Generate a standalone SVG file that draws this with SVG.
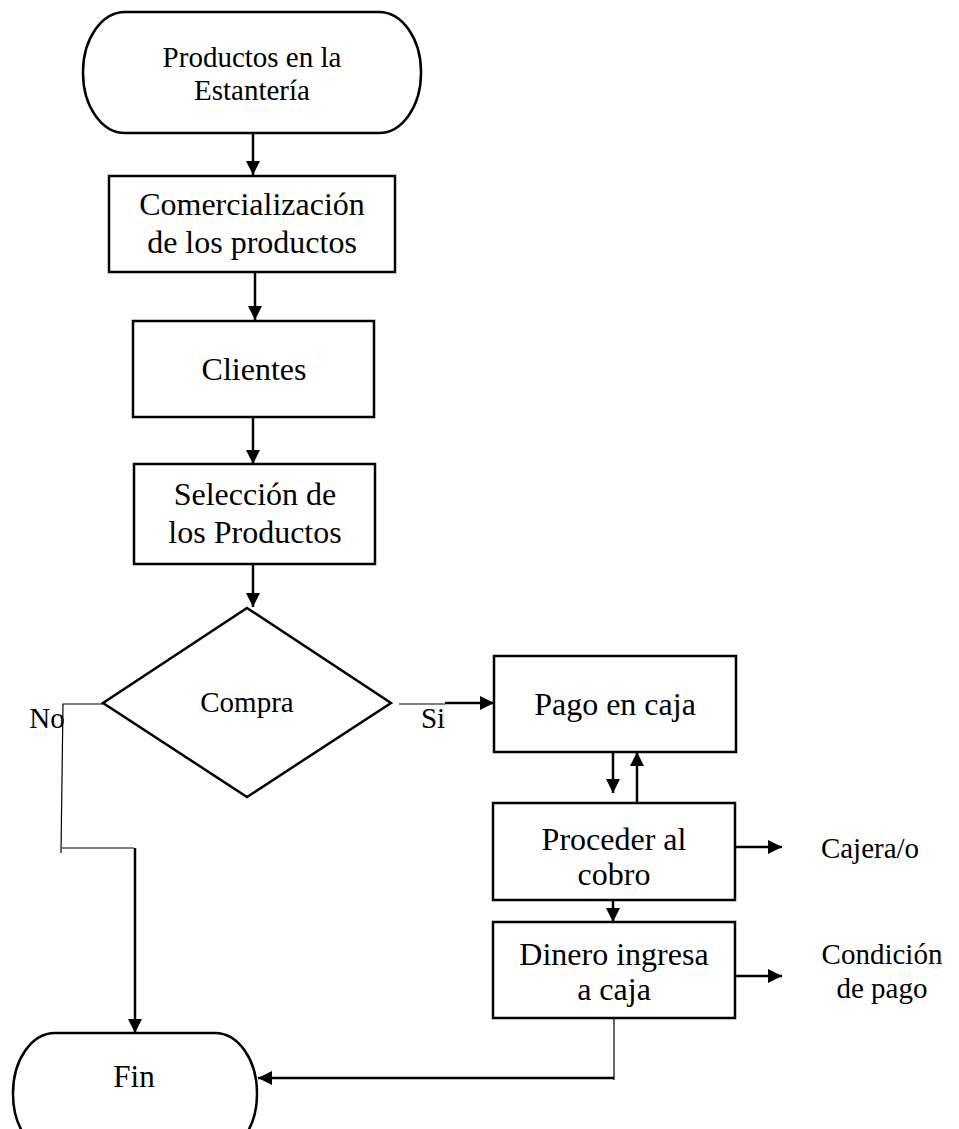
<svg xmlns="http://www.w3.org/2000/svg" width="959" height="1129" viewBox="0 0 959 1129">
<style>
.shape{fill:#fff;stroke:#000;stroke-width:2.5}
.t{font-family:"Liberation Serif","Times New Roman",serif;fill:#000;text-anchor:middle}
.b{font-size:32px}
.s{font-size:29px}
.thick{stroke:#000;stroke-width:2.5;fill:none}
.thin{stroke:#000;stroke-width:1.2;fill:none}
</style>
<defs>
<marker id="arr" viewBox="0 0 14 14" refX="14" refY="7" markerWidth="14" markerHeight="14" orient="auto" markerUnits="userSpaceOnUse">
<path d="M0,0 L14,7 L0,14 z" fill="#000"/>
</marker>
</defs>
<rect width="959" height="1129" fill="#fff"/>
<g id="connectors">
<line class="thick" x1="253" y1="133" x2="253" y2="175" marker-end="url(#arr)"/>
<line class="thick" x1="255" y1="272" x2="255" y2="320" marker-end="url(#arr)"/>
<line class="thick" x1="253" y1="417" x2="253" y2="464" marker-end="url(#arr)"/>
<line class="thick" x1="253" y1="564" x2="253" y2="607" marker-end="url(#arr)"/>
<polyline class="thin" points="103,704 63,704 61,853"/>
<line class="thin" x1="62" y1="848" x2="134" y2="848"/>
<line class="thick" x1="135" y1="848" x2="135" y2="1033" marker-end="url(#arr)"/>
<line class="thin" x1="399" y1="704" x2="445" y2="704"/>
<line class="thick" x1="445" y1="703" x2="494" y2="703" marker-end="url(#arr)"/>
<line class="thick" x1="613" y1="750" x2="613" y2="793" marker-end="url(#arr)"/>
<line class="thick" x1="637" y1="803" x2="637" y2="752" marker-end="url(#arr)"/>
<line class="thick" x1="735" y1="847" x2="782" y2="847" marker-end="url(#arr)"/>
<line class="thick" x1="613" y1="900" x2="613" y2="922" marker-end="url(#arr)"/>
<line class="thick" x1="735" y1="976" x2="782" y2="976" marker-end="url(#arr)"/>
<line class="thin" x1="614" y1="1018" x2="614" y2="1080"/>
<line class="thick" x1="614" y1="1078" x2="258" y2="1078" marker-end="url(#arr)"/>
</g>
<g id="start">
<rect class="shape" x="83" y="12" width="338" height="121" rx="42" ry="60"/>
<text class="t s" x="252" y="67">Productos en la</text>
<text class="t s" x="252" y="100">Estantería</text>
</g>
<g id="comercializacion">
<rect class="shape" x="109" y="176" width="286" height="96"/>
<text class="t b" x="252" y="215">Comercialización</text>
<text class="t b" x="252" y="253">de los productos</text>
</g>
<g id="clientes">
<rect class="shape" x="133" y="321" width="241" height="96"/>
<text class="t b" x="254" y="380">Clientes</text>
</g>
<g id="seleccion">
<rect class="shape" x="134" y="464" width="241" height="100"/>
<text class="t b" x="255" y="505">Selección de</text>
<text class="t b" x="255" y="543">los Productos</text>
</g>
<g id="compra">
<polygon class="shape" points="247,608 391,703 247,797 103,703"/>
<text class="t s" x="247" y="712">Compra</text>
</g>
<g id="label-no">
<text class="t s" x="47" y="728">No</text>
</g>
<g id="label-si">
<text class="t s" x="433" y="728">Si</text>
</g>
<g id="pago">
<rect class="shape" x="494" y="656" width="242" height="96"/>
<text class="t b" x="615" y="715">Pago en caja</text>
</g>
<g id="proceder">
<rect class="shape" x="493" y="803" width="242" height="97"/>
<text class="t b" x="614" y="850">Proceder al</text>
<text class="t b" x="614" y="885">cobro</text>
</g>
<g id="cajera">
<text class="t s" x="870" y="858">Cajera/o</text>
</g>
<g id="dinero">
<rect class="shape" x="493" y="922" width="242" height="96"/>
<text class="t b" x="614" y="965">Dinero ingresa</text>
<text class="t b" x="614" y="1000">a caja</text>
</g>
<g id="condicion">
<text class="t s" x="882" y="964">Condición</text>
<text class="t s" x="882" y="998">de pago</text>
</g>
<g id="fin">
<rect class="shape" x="13" y="1033" width="244" height="121" rx="42" ry="60"/>
<text class="t" style="font-size:31px" x="134" y="1087">Fin</text>
</g>
</svg>
